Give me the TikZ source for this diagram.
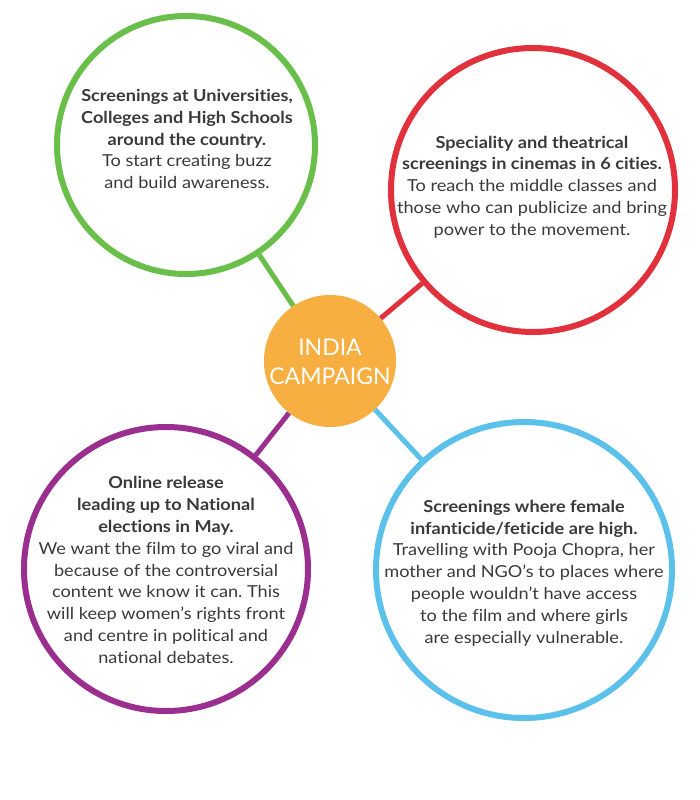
\documentclass[tikz,border=0pt]{standalone}
\usepackage{fontspec}
\setmainfont[Ligatures=NoCommon,FakeStretch=1.1]{Lato}
\newfontfamily\centerfont[Ligatures=NoCommon]{Lato}
\frenchspacing
\definecolor{cgreen}{HTML}{6ABF4B}
\definecolor{cred}{HTML}{E0313D}
\definecolor{corange}{HTML}{F7AF41}
\definecolor{cpurple}{HTML}{9B2F8F}
\definecolor{cblue}{HTML}{5BC1EA}
\definecolor{ctext}{HTML}{3A3A3A}
\begin{document}
\begin{tikzpicture}[x=1pt,y=-1pt,
  bubble/.style={circle,draw,line width=6pt,fill=white,inner sep=0pt},
  link/.style={line width=5pt},
  bubbletext/.style={align=center,text=ctext,font=\fontsize{16.5}{21.8}\selectfont,inner sep=0pt}]
\useasboundingbox[fill=white] (0,0) rectangle (700,800);
% circles
\node[bubble,draw=cgreen,minimum size=258pt] (g) at (186,145) {};
\node[bubble,draw=cred,minimum size=284pt] (r) at (533,190) {};
\node[bubble,draw=cpurple,minimum size=284pt] (p) at (166,569) {};
\node[bubble,draw=cblue,minimum size=296pt] (b) at (524,570) {};
\node[circle,fill=corange,inner sep=0pt,minimum size=132pt] (o) at (330,361) {};
% connectors
\draw[link,cgreen] (g) -- (o);
\draw[link,cred] (r) -- (o);
\draw[link,cpurple] (p) -- (o);
\draw[link,cblue] (b) -- (o);
% texts
\node[align=center,text=white,font=\centerfont\fontsize{23}{29}\selectfont,inner sep=0pt] (ot) at (330,362) {INDIA\\CAMPAIGN};
\node[bubbletext] (gt) at (187,139) {\textbf{Screenings at Universities,}\\\textbf{Colleges and High Schools}\\\textbf{around the country.}\\To start creating buzz\\and build awareness.};
\node[bubbletext] (rt) at (532,187) {\textbf{Speciality and theatrical}\\\textbf{screenings in cinemas in 6 cities.}\\To reach the middle classes and\\those who can publicize and bring\\power to the movement.};
\node[bubbletext] (pt) at (166,570) {\textbf{Online release}\\\textbf{leading up to National}\\\textbf{elections in May.}\\We want the film to go viral and\\because of the controversial\\content we know it can. This\\will keep women’s rights front\\and centre in political and\\national debates.};
\node[bubbletext] (bt) at (524,573) {\textbf{Screenings where female}\\\textbf{infanticide/feticide are high.}\\Travelling with Pooja Chopra, her\\mother and NGO’s to places where\\people wouldn’t have access\\to the film and where girls\\are especially vulnerable.};
\end{tikzpicture}
\end{document}
